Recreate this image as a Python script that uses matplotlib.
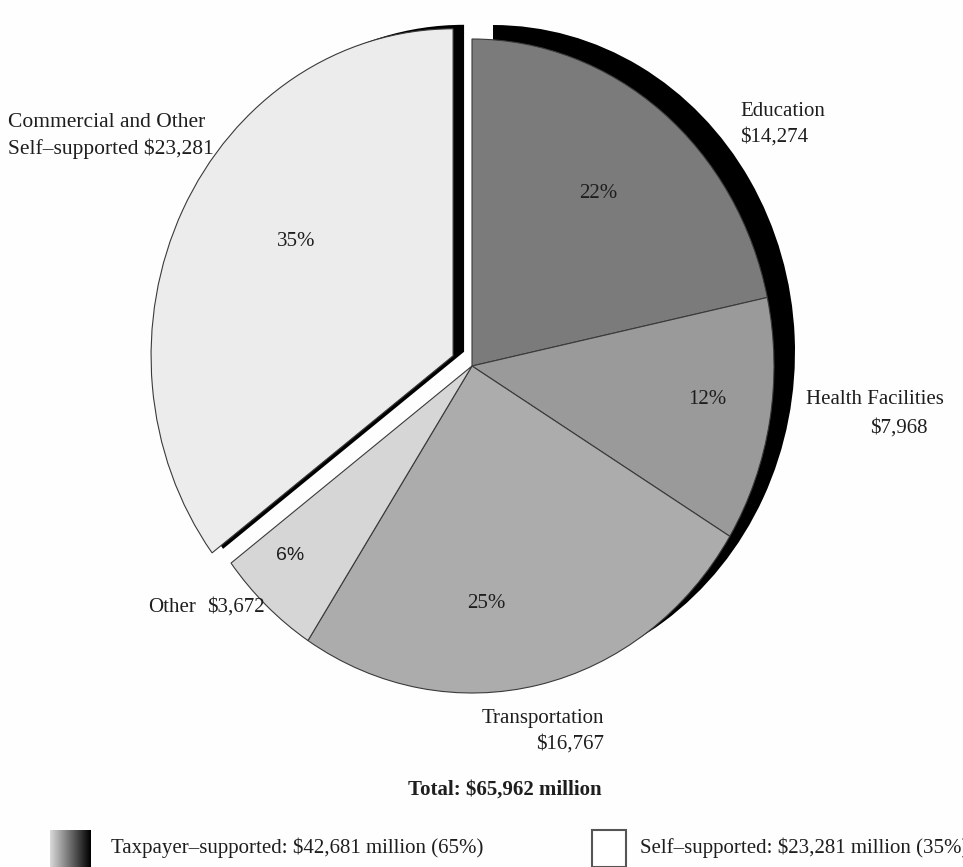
import numpy as np
import matplotlib
matplotlib.use("Agg")
from matplotlib import pyplot as plt
from matplotlib.patches import Wedge, Rectangle

# data (millions of dollars)
categories = ['Education', 'Health Facilities', 'Transportation', 'Other', 'Commercial and Other Self-supported']
amounts = [14274, 7968, 16767, 3672, 23281]
colors = ['#7b7b7b', '#9a9a9a', '#acacac', '#d6d6d6', '#ececec']
explode = [0, 0, 0, 0, 0.07]
taxpayer_total = 42681
self_total = 23281
total = 65962

# pixel geometry of the (slightly stretched) pie
CX, CY = 472, 366
RX, RY = 302, 327


def px(x, y):
    return ((x - CX) / RX, (CY - y) / RY)


fig = plt.figure(figsize=(9.63, 8.67), dpi=100)
fig.patch.set_facecolor('#fefefe')
ax = fig.add_axes([0, 0, 1, 1])

wedges, _ = ax.pie(amounts, colors=colors, explode=explode, startangle=90,
                   counterclock=False, radius=1.0,
                   wedgeprops=dict(edgecolor='#3a3a3a', linewidth=0.8, zorder=2))

# black drop shadows behind the pie
sdx, sdy = 21 / RX, 14 / RY
tax = wedges[:4]
ax.add_patch(Wedge((sdx, sdy), 1.0, tax[-1].theta1, tax[0].theta2,
                   facecolor='black', edgecolor='none', zorder=1))
cw = wedges[4]
cdx, cdy = 11 / RX, 4 / RY
ax.add_patch(Wedge((cw.center[0] + cdx, cw.center[1] + cdy), 1.0, cw.theta1, cw.theta2,
                   facecolor='black', edgecolor='none', zorder=1))

ax.set_xlim(px(0, 0)[0], px(963, 0)[0])
ax.set_ylim(px(0, 867)[1], px(0, 0)[1])
ax.set_aspect('auto')
ax.axis('off')

serif = 'Liberation Serif'
tc = '#1e1e1e'
fs = 15

pcts = ['%d%%' % round(a / total * 100) for a in amounts]
pct_pos = [(598, 193), (707, 399), (486, 604), (290, 555), (296, 242)]
for i, (p, pos) in enumerate(zip(pcts, pct_pos)):
    fam = 'Liberation Sans' if i == 3 else serif
    ax.text(*px(*pos), p, ha='center', va='center', fontsize=fs - (1 if i == 3 else 0),
            family=fam, color=tc)


def money(v):
    return '${:,}'.format(v)


ax.text(*px(740, 124), 'Education\n' + money(amounts[0]), ha='left', va='center',
        fontsize=fs, family=serif, color=tc, linespacing=1.45)
ax.text(*px(806, 400), 'Health Facilities', ha='left', va='center',
        fontsize=fs, family=serif, color=tc)
ax.text(*px(870, 428), money(amounts[1]), ha='left', va='center',
        fontsize=fs, family=serif, color=tc)
ax.text(*px(604, 731), 'Transportation\n' + money(amounts[2]), ha='right', va='center',
        multialignment='right', fontsize=fs, family=serif, color=tc, linespacing=1.45)
ax.text(*px(148, 607), 'Other', ha='left', va='center',
        fontsize=fs, family=serif, color=tc)
ax.text(*px(207, 607), money(amounts[3]), ha='left', va='center',
        fontsize=fs, family=serif, color=tc)
ax.text(*px(8, 136), 'Commercial and Other\nSelf\u2013supported ' + money(amounts[4]),
        ha='left', va='center', fontsize=fs + 0.5, family=serif, color=tc, linespacing=1.4)
ax.text(*px(505, 790), 'Total: %s million' % money(total), ha='center', va='center',
        fontsize=fs, family=serif, weight='bold', color=tc)

# legend
gax = fig.add_axes([50 / 963, 0, 40 / 963, (867 - 830) / 867])
grad = np.linspace(0.85, 0.0, 64).reshape(1, -1)
gax.imshow(grad, cmap='gray', vmin=0, vmax=1, aspect='auto', extent=(0, 1, 0, 1))
gax.axis('off')
ax.text(*px(111, 848), 'Taxpayer\u2013supported: %s million (%d%%)' % (money(taxpayer_total), round(taxpayer_total / total * 100)),
        ha='left', va='center', fontsize=fs, family=serif, color=tc)
x0, y0 = px(592, 867)
x1, y1 = px(626, 830)
ax.add_patch(Rectangle((x0, y0), x1 - x0, y1 - y0, facecolor='white',
                       edgecolor='#555555', linewidth=1.5, clip_on=False))
ax.text(*px(640, 848), 'Self\u2013supported: %s million (%d%%)' % (money(self_total), round(self_total / total * 100)),
        ha='left', va='center', fontsize=fs, family=serif, color=tc)

fig.savefig('out.png', dpi=100, facecolor=fig.get_facecolor())
